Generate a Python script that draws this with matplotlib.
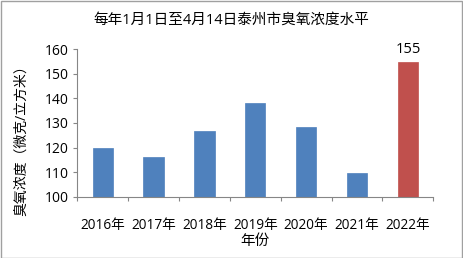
import matplotlib
matplotlib.use("Agg")
import matplotlib.pyplot as plt
from matplotlib.patches import Rectangle

plt.rcParams['font.family'] = ['Open Sans', 'Noto Sans CJK SC', 'DejaVu Sans']

years = ["2016年", "2017年", "2018年", "2019年", "2020年", "2021年", "2022年"]
values = [119.8, 116.0, 126.9, 138.0, 128.5, 109.6, 155.0]
colors = ["#4F81BD"] * 6 + ["#C0504D"]
title = "每年1月1日至4月14日泰州市臭氧浓度水平"
ylabel = "臭氧浓度（微克/立方米）"
xlabel = "年份"

W, H = 463, 258
fig = plt.figure(figsize=(W / 100, H / 100), dpi=100)
ax = fig.add_axes([77.3 / W, 1 - 196.7 / H, (433.3 - 77.3) / W, (196.7 - 49.3) / H])

x = list(range(len(years)))
ax.bar(x, [v - 100 for v in values], bottom=100, width=0.4, color=colors,
       edgecolor=[c for c in colors], linewidth=0.5, zorder=2)
ax.set_xlim(-0.5, len(years) - 0.5)
ax.set_ylim(100, 160)
ax.set_yticks(range(100, 161, 10))
ax.tick_params(axis='y', labelsize=10, length=3, color='#868686', pad=3, direction='out')
ax.set_xticks([i + 0.5 for i in range(-1, len(years))], minor=False)
ax.set_xticklabels([])
ax.set_xticks(x, minor=True)
ax.set_xticklabels(years, minor=True)
ax.tick_params(axis='x', which='major', length=3, color='#868686', direction='out')
ax.tick_params(axis='x', which='minor', length=0, labelsize=9.8, pad=15)
for s in ['top', 'right']:
    ax.spines[s].set_visible(False)
for s in ['left', 'bottom']:
    ax.spines[s].set_color('#868686')
    ax.spines[s].set_linewidth(0.8)

ax.text(x[-1], values[-1] + 2.0, f"{values[-1]:.0f}", ha='center', va='bottom', fontsize=10.5)

fig.text(0.5, 1 - 20 / H, title, ha='center', va='center', fontsize=10.5)
fig.text(22 / W, 1 - 137 / H, ylabel, rotation=90, ha='center', va='center', fontsize=10)
fig.text((77.3 + 433.3) / 2 / W, 1 - 241.5 / H, xlabel, ha='center', va='center', fontsize=10.5)

fig.patches.append(Rectangle((0.5 / W, 0.5 / H), 1 - 1.5 / W, 1 - 1.5 / H, transform=fig.transFigure,
                             fill=False, edgecolor='#A0A0A0', linewidth=1))
fig.savefig("out.png", dpi=100)
